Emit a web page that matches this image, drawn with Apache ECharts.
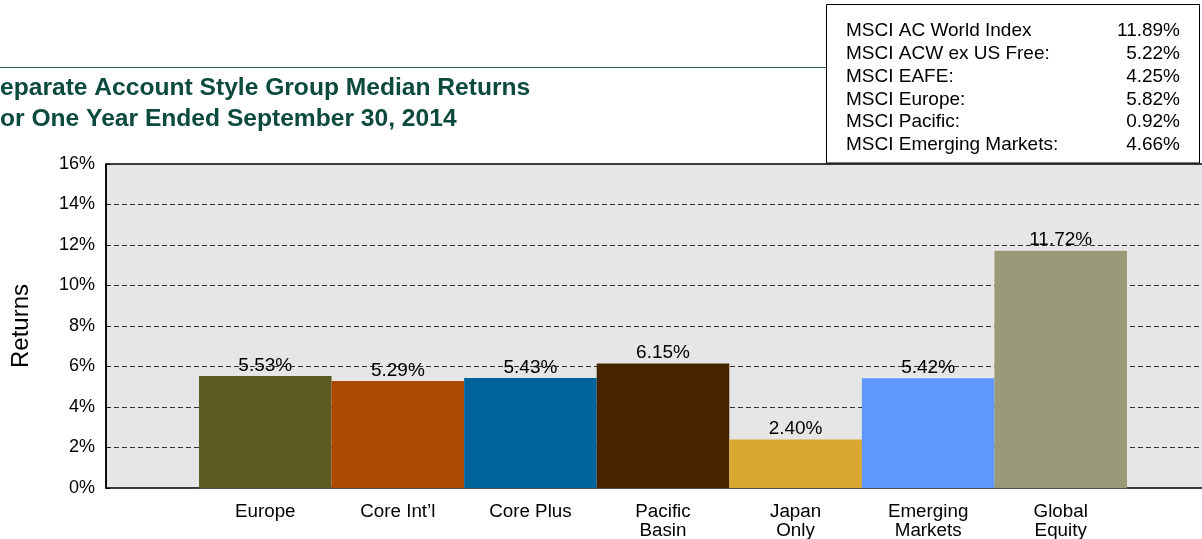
<!DOCTYPE html>
<html>
<head>
<meta charset="utf-8">
<script src="https://cdn.jsdelivr.net/npm/echarts@6/dist/echarts.min.js"></script>
<style>
html,body{margin:0;padding:0;background:#fff;}
#chart{width:1202px;height:539px;}
</style>
</head>
<body>
<div id="chart"></div>
<script>
var categories = ['Europe', 'Core Int\u2019l', 'Core Plus', 'Pacific\nBasin', 'Japan\nOnly', 'Emerging\nMarkets', 'Global\nEquity'];
var values = [5.53, 5.29, 5.43, 6.15, 2.40, 5.42, 11.72];
var barColors = ['#5c5c22', '#ad4800', '#00649a', '#472400', '#d9a830', '#6097ff', '#9a9a79'];
var indexNames = ['MSCI AC World Index', 'MSCI ACW ex US Free:', 'MSCI EAFE:', 'MSCI Europe:', 'MSCI Pacific:', 'MSCI Emerging Markets:'];
var indexValues = ['11.89%', '5.22%', '4.25%', '5.82%', '0.92%', '4.66%'];
var titleLines = ['Separate Account Style Group Median Returns', 'For One Year Ended September 30, 2014'];
var yMin = 0, yMax = 16, yStep = 2;

var FONT = '"Liberation Sans", Arial, sans-serif';
var chart = echarts.init(document.getElementById('chart'));

chart.setOption({
  animation: false,
  backgroundColor: '#ffffff',
  grid: [
    {left: 106, width: 1114, top: 164, bottom: 51, show: true, backgroundColor: '#e6e6e6', borderColor: '#000', borderWidth: 1.5, containLabel: false, outerBoundsMode: 'none'},
    {left: 199, right: 75, top: 164, bottom: 51, containLabel: false, outerBoundsMode: 'none'}
  ],
  xAxis: [
    {gridIndex: 0, type: 'value', min: 0, max: 1, show: false},
    {gridIndex: 1, type: 'category', data: categories,
      axisLine: {show: true, lineStyle: {color: '#555', width: 1}},
      axisTick: {show: false},
      axisLabel: {color: '#000', fontFamily: FONT, fontSize: 18.8, lineHeight: 19, margin: 14, interval: 0}
    }
  ],
  yAxis: [
    {gridIndex: 0, type: 'value', min: yMin, max: yMax, interval: yStep,
      name: 'Returns', nameLocation: 'middle', nameRotate: 90, nameGap: 73,
      nameTextStyle: {color: '#000', fontFamily: FONT, fontSize: 24},
      axisLine: {show: true, lineStyle: {color: '#000', width: 1.5}},
      axisTick: {show: true, inside: true, length: 4, lineStyle: {color: '#000'}},
      axisLabel: {color: '#000', fontFamily: FONT, fontSize: 18, margin: 11, formatter: '{value}%'},
      splitLine: {show: true, showMinLine: false, showMaxLine: false, lineStyle: {color: '#333', type: [5, 3], width: 1}}
    },
    {gridIndex: 1, type: 'value', min: yMin, max: yMax, interval: yStep, show: false, splitLine: {show: false}}
  ],
  series: [{
    type: 'bar',
    xAxisIndex: 1,
    yAxisIndex: 1,
    barCategoryGap: 0,
    data: values.map(function (v, i) { return {value: v, itemStyle: {color: barColors[i]}}; }),
    label: {show: true, position: 'top', distance: 1, color: '#000', fontFamily: FONT, fontSize: 19,
      formatter: function (p) { return p.value.toFixed(2) + '%'; }},
    z: 3
  }],
  graphic: [
    {type: 'rect', shape: {x: 0, y: 67, width: 826, height: 1}, style: {fill: '#2f6a5c'}, z: 1},
    {type: 'text', x: -16.4, y: 88, style: {text: titleLines[0], font: 'bold 24.6px ' + FONT, fill: '#0b4a3c', textVerticalAlign: 'middle'}},
    {type: 'text', x: -15, y: 119, style: {text: titleLines[1], font: 'bold 24.6px ' + FONT, fill: '#0b4a3c', textVerticalAlign: 'middle'}},
    {type: 'rect', shape: {x: 826.5, y: 4.5, width: 373, height: 158.5}, style: {fill: '#fff', stroke: '#000', lineWidth: 1}, z: 10},
    {type: 'text', x: 846, y: 19.5, z: 11, style: {text: indexNames.join('\n'), font: '19px ' + FONT, lineHeight: 22.8, fill: '#000', textAlign: 'left'}},
    {type: 'text', x: 1180, y: 19.5, z: 11, style: {text: indexValues.join('\n'), font: '19px ' + FONT, lineHeight: 22.8, fill: '#000', textAlign: 'right'}}
  ]
});
</script>
</body>
</html>
